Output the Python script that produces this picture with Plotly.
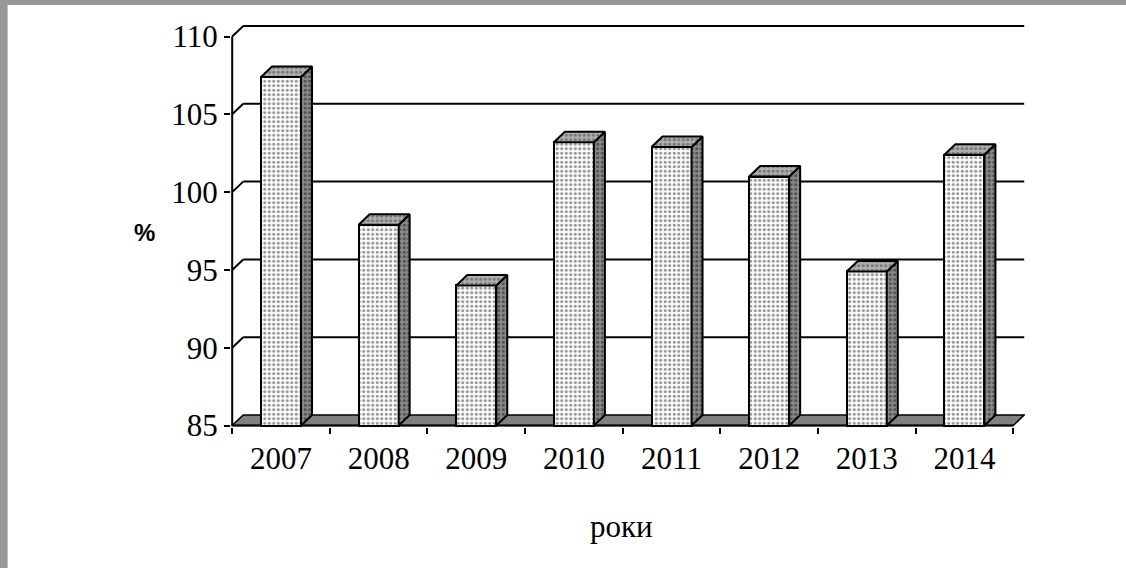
import plotly.graph_objects as go

# ---- data ----
years = ["2007", "2008", "2009", "2010", "2011", "2012", "2013", "2014"]
values = [107.4, 97.9, 94.0, 103.2, 102.9, 101.0, 94.9, 102.4]
y_ticks = [85, 90, 95, 100, 105, 110]
x_title = "роки"
y_title = "%"

# ---- geometry / style ----
W, H = 1126, 568
base = 85
bar_w = 0.41
dx = 11 / 97.6      # depth offset in x units
dy = 10.5 / 15.56   # depth offset in y units
n = len(years)
x0, x1 = -0.5 - 1.2 / 97.6, n - 0.5 + dx + 0.008
y0, y1 = base - 1.5 / 15.56, 110.74
L, R, T, B = 231.3, 101, 25, 141
SERIF = "Liberation Serif, Times New Roman, serif"

xs = list(range(n))

fig = go.Figure()

# front faces of bars
fig.add_trace(go.Bar(
    x=xs, y=[v - base for v in values], base=base, width=bar_w,
    marker=dict(color="white", line=dict(color="black", width=2),
                pattern=dict(shape=".", fgcolor="#303030", bgcolor="white",
                             size=4.5, solidity=0.4)),
    hoverinfo="skip", showlegend=False))

# side faces
sx, sy = [], []
for i, v in zip(xs, values):
    r = i + bar_w / 2
    sx += [r, r + dx, r + dx, r, r, None]
    sy += [base, base + dy, v + dy, v, base, None]
fig.add_trace(go.Scatter(
    x=sx, y=sy, mode="lines", fill="toself", fillcolor="#8a8a8a",
    fillpattern=dict(shape=".", fgcolor="#1a1a1a", bgcolor="#8a8a8a", size=4.5, solidity=0.4),
    line=dict(color="black", width=2), hoverinfo="skip", showlegend=False))

# top faces
tx, ty = [], []
for i, v in zip(xs, values):
    l, r = i - bar_w / 2, i + bar_w / 2
    tx += [l, r, r + dx, l + dx, l, None]
    ty += [v, v, v + dy, v + dy, v, None]
fig.add_trace(go.Scatter(
    x=tx, y=ty, mode="lines", fill="toself", fillcolor="#b0b0b0",
    fillpattern=dict(shape=".", fgcolor="#404040", bgcolor="#b0b0b0", size=4.5, solidity=0.4),
    line=dict(color="black", width=2), hoverinfo="skip", showlegend=False))

shapes = []
xl, xr = -0.5, n - 0.5
# back-wall gridlines with diagonal connectors
for v in y_ticks[1:]:
    shapes.append(dict(type="line", xref="x", yref="y", x0=xl, y0=v, x1=xl + dx, y1=v + dy,
                       line=dict(color="black", width=2), layer="below"))
    shapes.append(dict(type="line", xref="x", yref="y", x0=xl + dx, y0=v + dy, x1=xr + dx, y1=v + dy,
                       line=dict(color="black", width=2), layer="below"))
# floor
shapes.append(dict(type="path", xref="x", yref="y",
                   path=f"M {xl},{base} L {xr},{base} L {xr + dx},{base + dy} L {xl + dx},{base + dy} Z",
                   fillcolor="#808080", line=dict(color="black", width=1.5), layer="below"))
shapes.append(dict(type="line", xref="x", yref="y", x0=xl, y0=base, x1=xr, y1=base,
                   line=dict(color="black", width=2), layer="below"))
# front vertical axis line
shapes.append(dict(type="line", xref="x", yref="y", x0=xl, y0=base, x1=xl, y1=y_ticks[-1],
                   line=dict(color="black", width=2), layer="above"))

# grey frame strips (top and left)
pw = W - L - R
ph = H - T - B
def px_x(p):
    return (p - L) / pw
def px_y(p):
    return (H - B - p) / ph
shapes.append(dict(type="rect", xref="paper", yref="paper", x0=px_x(0), x1=px_x(W), y0=px_y(5), y1=px_y(0),
                   fillcolor="#979797", line=dict(width=0), layer="above"))
shapes.append(dict(type="rect", xref="paper", yref="paper", x0=px_x(0), x1=px_x(8), y0=px_y(H), y1=px_y(0),
                   fillcolor="#979797", line=dict(width=0), layer="above"))

fig.update_layout(
    width=W, height=H,
    margin=dict(l=L, r=R, t=T, b=B, pad=0),
    paper_bgcolor="white", plot_bgcolor="white",
    shapes=shapes,
    bargap=0,
    xaxis=dict(range=[x0, x1], tickmode="array", tickvals=xs, ticktext=years, ticks="",
               showgrid=False, zeroline=False, showline=False, automargin=False,
               tickfont=dict(family=SERIF, size=31, color="black"),
               ticklabelstandoff=10,
               minor=dict(tickmode="array", tickvals=[k - 0.5 for k in range(n + 1)],
                          ticks="outside", ticklen=6, tickwidth=2, tickcolor="black", showgrid=False)),
    yaxis=dict(range=[y0, y1], tickmode="array", tickvals=y_ticks, ticktext=[str(t) for t in y_ticks],
               ticks="outside", ticklen=6, tickwidth=2, tickcolor="black",
               showgrid=False, zeroline=False, showline=False, automargin=False,
               tickfont=dict(family=SERIF, size=31, color="black")),
    annotations=[
        dict(text=x_title, xref="paper", yref="paper", x=px_x(622), y=px_y(526),
             showarrow=False, font=dict(family=SERIF, size=31, color="black"),
             xanchor="center", yanchor="middle"),
        dict(text=f"<b>{y_title}</b>", xref="paper", yref="paper", x=px_x(145), y=px_y(232),
             showarrow=False, font=dict(family="Liberation Sans, Arial, sans-serif", size=24, color="black"),
             xanchor="center", yanchor="middle"),
    ],
)

fig.write_html("out.html", config={"displayModeBar": False},
               post_script="document.body.style.margin='0';document.body.style.overflow='hidden';")
